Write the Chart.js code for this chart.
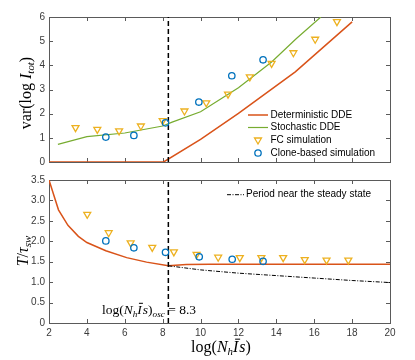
<!DOCTYPE html>
<html><head><meta charset="utf-8">
<script src="https://cdn.jsdelivr.net/npm/chart.js@4"></script>
<style>
html,body{margin:0;padding:0;background:#fff;width:415px;height:360px;overflow:hidden}
#wrap{position:relative;width:415px;height:360px}
canvas{position:absolute;left:0}
.lbl{position:absolute;font-family:"Liberation Serif","DejaVu Serif",serif;color:#000;white-space:nowrap;line-height:1}
.rot{transform:translate(-50%,-50%) rotate(-90deg)}
.ctr{transform:translate(-50%,-50%)}
.it{font-style:italic}
.bar{display:inline-block;position:relative;padding-right:1px}
.bar::before{content:'';position:absolute;left:30%;right:-8%;top:-0.02em;border-top:1px solid #000}
sub{font-size:68%;vertical-align:-0.35em;font-style:italic}
</style></head>
<body><div id="wrap">
<canvas id="c1" width="415" height="175" style="top:0"></canvas>
<canvas id="c2" width="415" height="190" style="top:170px"></canvas>
<div class="lbl rot" style="left:27px;top:93px;font-size:16px">var(log <span class="it">I</span><sub>tot</sub>)</div>
<div class="lbl rot" style="left:24px;top:251px;font-size:16px"><span class="it">T</span>/<span class="it">τ</span><sub>sw</sub></div>
<div class="lbl ctr" style="left:221px;top:348px;font-size:16px">log(<span class="it">N</span><sub>h</sub><span class="it bar">I</span><span class="it">s</span>)</div>
<div class="lbl ctr" style="left:149px;top:311px;font-size:13.5px">log(<span class="it">N</span><sub>h</sub><span class="it bar">I</span><span class="it">s</span>)<sub>osc</sub> = 8.3</div>
</div>
<script>
// ---------- data ----------
const xTicks = [2, 4, 6, 8, 10, 12, 14, 16, 18, 20];
const yTicksTop = [0, 1, 2, 3, 4, 5, 6];
const yTicksBot = [0, 0.5, 1, 1.5, 2, 2.5, 3, 3.5];
const xOsc = 8.3;

const detX = [2, 8.05, 10, 12, 15, 18];
const detY = [0, 0, 0.94, 2.01, 3.73, 5.8];
const stoX = [2.47, 4.0, 6.0, 8.0, 8.5, 10, 12, 13.75, 15.06, 16.35];
const stoY = [0.73, 1.05, 1.2, 1.49, 1.65, 2.08, 3.07, 4.14, 5.11, 6.0];
const fcTopX = [3.4, 4.55, 5.7, 6.85, 8.0, 9.15, 10.3, 11.45, 12.6, 13.75, 14.9, 16.05, 17.2];
const fcTopY = [1.42, 1.35, 1.29, 1.49, 1.71, 2.11, 2.45, 2.81, 3.52, 4.08, 4.52, 5.08, 5.81];
const clTopX = [5.0, 6.48, 8.15, 9.91, 11.65, 13.3];
const clTopY = [1.03, 1.10, 1.62, 2.48, 3.57, 4.23];

const perX = [2, 2.5, 3.0, 3.55, 4.0, 5.0, 6.1, 7.15, 8.3, 9.25, 10.5, 12, 14, 16, 18, 20];
const perY = [3.5, 2.77, 2.39, 2.12, 1.97, 1.77, 1.60, 1.49, 1.40, 1.43, 1.44, 1.44, 1.44, 1.44, 1.44, 1.44];
const ssX = [8.3, 10, 12, 14, 16, 18, 20];
const ssY = [1.40, 1.30, 1.22, 1.16, 1.10, 1.04, 0.99];
const fcBotX = [4.02, 5.15, 6.31, 7.45, 8.59, 9.79, 10.93, 12.07, 13.21, 14.36, 15.5, 16.65, 17.8];
const fcBotY = [2.66, 2.21, 1.96, 1.85, 1.74, 1.68, 1.61, 1.60, 1.60, 1.60, 1.55, 1.54, 1.54];
const clBotX = [5.0, 6.48, 8.15, 9.93, 11.67, 13.3];
const clBotY = [2.01, 1.84, 1.73, 1.62, 1.56, 1.51];

const labels = ['Deterministic DDE', 'Stochastic DDE', 'FC simulation', 'Clone-based simulation'];
const ssLabel = 'Period near the steady state';

// ---------- style ----------
const C_DET = '#D95319', C_STO = '#77AC30', C_FC = '#EDB120', C_CL = '#0072BD';
const AX = '#5a5a5a', TXT = '#3a3a3a';
const FONT = '"Liberation Sans", Arial, sans-serif';

const pts = (xs, ys) => xs.map((x, i) => ({x, y: ys[i]}));

function framePlugin(yTicks) {
  return {
    id: 'frame',
    beforeDatasetsDraw(chart) {
      const {ctx, chartArea: a, scales} = chart;
      ctx.save();
      ctx.strokeStyle = AX; ctx.lineWidth = 1;
      ctx.strokeRect(Math.round(a.left) + 0.5, Math.round(a.top) + 0.5, Math.round(a.right - a.left), Math.round(a.bottom - a.top));
      ctx.beginPath();
      const L = 4;
      xTicks.forEach(v => {
        const px = Math.round(scales.x.getPixelForValue(v)) + 0.5;
        ctx.moveTo(px, a.bottom); ctx.lineTo(px, a.bottom - L);
        ctx.moveTo(px, a.top); ctx.lineTo(px, a.top + L);
      });
      yTicks.forEach(v => {
        const py = Math.round(scales.y.getPixelForValue(v)) + 0.5;
        ctx.moveTo(a.left, py); ctx.lineTo(a.left + L, py);
        ctx.moveTo(a.right, py); ctx.lineTo(a.right - L, py);
      });
      ctx.stroke();
      ctx.restore();
    }
  };
}

function drawTri(ctx, x, y, r, color) {
  ctx.beginPath();
  let rad = Math.PI;
  for (let k = 0; k < 3; k++) {
    const px = x + Math.sin(rad) * r, py = y - Math.cos(rad) * r;
    if (k === 0) ctx.moveTo(px, py); else ctx.lineTo(px, py);
    rad += 2 * Math.PI / 3;
  }
  ctx.closePath();
  ctx.strokeStyle = color; ctx.lineWidth = 1.3; ctx.stroke();
}
function drawCirc(ctx, x, y, r, color) {
  ctx.beginPath(); ctx.arc(x, y, r, 0, 2 * Math.PI);
  ctx.strokeStyle = color; ctx.lineWidth = 1.3; ctx.stroke();
}

const legendTop = {
  id: 'legTop',
  afterDraw(chart) {
    const ctx = chart.ctx;
    ctx.save();
    ctx.font = '10px ' + FONT; ctx.fillStyle = '#000'; ctx.textBaseline = 'middle'; ctx.textAlign = 'left';
    const rows = [115, 127.5, 140, 153];
    const x0 = 248, x1 = 268, tx = 270.5;
    ctx.lineWidth = 1.5; ctx.strokeStyle = C_DET;
    ctx.beginPath(); ctx.moveTo(x0, rows[0]); ctx.lineTo(x1, rows[0]); ctx.stroke();
    ctx.lineWidth = 1.2; ctx.strokeStyle = C_STO;
    ctx.beginPath(); ctx.moveTo(x0, rows[1]); ctx.lineTo(x1, rows[1]); ctx.stroke();
    drawTri(ctx, 258, rows[2], 4, C_FC);
    drawCirc(ctx, 258, rows[3], 3.2, C_CL);
    labels.forEach((t, i) => ctx.fillText(t, tx, rows[i]));
    ctx.restore();
  }
};
const legendBot = {
  id: 'legBot',
  afterDraw(chart) {
    const ctx = chart.ctx;
    ctx.save();
    ctx.strokeStyle = '#000'; ctx.lineWidth = 1; ctx.setLineDash([4, 1.5, 1, 1.5]);
    ctx.beginPath(); ctx.moveTo(227, 24.7); ctx.lineTo(244, 24.7); ctx.stroke();
    ctx.setLineDash([]);
    ctx.font = '10px ' + FONT; ctx.fillStyle = '#000'; ctx.textBaseline = 'middle'; ctx.textAlign = 'left';
    ctx.fillText(ssLabel, 246, 24.7);
    ctx.restore();
  }
};

Chart.defaults.font.family = FONT;
Chart.defaults.font.size = 10;
Chart.defaults.color = TXT;

function common(yMin, yMax, yStep, showX, xH, padTop) {
  return {
    responsive: false, animation: false, devicePixelRatio: 1,
    layout: {padding: {top: padTop, right: 25, left: 0, bottom: 0}},
    plugins: {legend: {display: false}, tooltip: {enabled: false}},
    elements: {line: {tension: 0}},
    scales: {
      x: {type: 'linear', min: 2, max: 20,
          ticks: {display: showX, stepSize: 2, padding: 4, color: TXT, font: {size: 10}},
          grid: {display: false, drawTicks: false}, border: {display: false},
          afterFit: s => { s.height = xH; }},
      y: {type: 'linear', min: yMin, max: yMax,
          ticks: {stepSize: yStep, padding: 4, color: TXT, font: {size: 10}},
          grid: {display: false, drawTicks: false}, border: {display: false},
          afterFit: s => { s.width = 49; }}
    }
  };
}

const lineDs = (data, color, w, dash) => ({type: 'line', data, borderColor: color, borderWidth: w, borderDash: dash || [], pointRadius: 0, fill: false, showLine: true});
const mkDs = (data, color, style, r, rot) => ({type: 'scatter', data, borderColor: color, backgroundColor: 'rgba(0,0,0,0)', pointStyle: style, pointRadius: r, pointBorderWidth: 1.3, pointRotation: rot || 0, showLine: false});

new Chart(document.getElementById('c1'), {
  type: 'scatter',
  data: {datasets: [
    mkDs(pts(clTopX, clTopY), C_CL, 'circle', 3.2),
    mkDs(pts(fcTopX, fcTopY), C_FC, 'triangle', 4, 180),
    lineDs(pts([xOsc, xOsc], [0, 6]), '#000', 1.5, [5, 3]),
    lineDs(pts(stoX, stoY), C_STO, 1.2),
    lineDs(pts(detX, detY), C_DET, 1.5)
  ]},
  options: common(0, 6, 1, false, 13, 17),
  plugins: [framePlugin(yTicksTop), legendTop]
});

new Chart(document.getElementById('c2'), {
  type: 'scatter',
  data: {datasets: [
    mkDs(pts(clBotX, clBotY), C_CL, 'circle', 3.2),
    mkDs(pts(fcBotX, fcBotY), C_FC, 'triangle', 4, 180),
    lineDs(pts([xOsc, xOsc], [0, 3.5]), '#000', 1.5, [5, 3]),
    lineDs(pts(ssX, ssY), '#000', 1, [4, 1.5, 1, 1.5]),
    lineDs(pts(perX, perY), C_DET, 1.5)
  ]},
  options: common(0, 3.5, 0.5, true, 37, 9),
  plugins: [framePlugin(yTicksBot), legendBot]
});
</script>
</body></html>
